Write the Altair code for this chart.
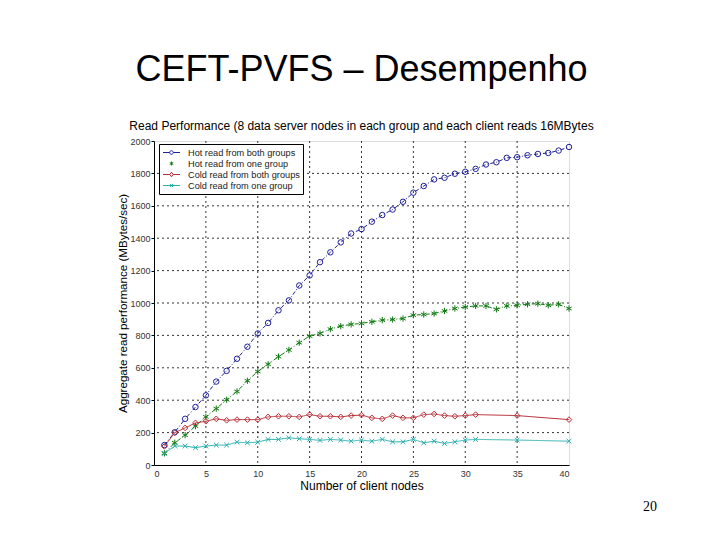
import altair as alt
import pandas as pd

# ---------------- data ----------------
series_names = [
    "Hot read from both groups",
    "Hot read from one group",
    "Cold read from both groups",
    "Cold read from one group",
]

x_full = list(range(1, 41))
hot_both = [123, 202, 285, 358, 430, 515, 581, 656, 730, 812,
            877, 955, 1016, 1108, 1170, 1252, 1313, 1374, 1429, 1456,
            1502, 1543, 1577, 1625, 1681, 1722, 1763, 1773, 1798, 1810,
            1828, 1855, 1869, 1896, 1900, 1912, 1920, 1926, 1941, 1963]
hot_one = [72, 137, 184, 240, 297, 348, 403, 454, 520, 577,
           622, 669, 710, 755, 796, 812, 839, 857, 868, 874,
           884, 894, 898, 904, 925, 929, 935, 951, 966, 975,
           982, 982, 961, 982, 986, 992, 996, 986, 992, 966]

x_cold = list(range(1, 32)) + [35, 40]
cold_both = [115, 199, 229, 260, 270, 285, 276, 280, 280, 280,
             297, 301, 301, 297, 311, 301, 301, 297, 305, 308,
             291, 285, 305, 291, 291, 311, 315, 305, 301, 305,
             311, 305, 280]
cold_one = [72, 117, 117, 107, 117, 123, 123, 141, 137, 141,
            158, 158, 168, 162, 158, 152, 158, 154, 147, 154,
            147, 158, 143, 143, 158, 137, 147, 133, 143, 154,
            158, 154, 147]

x_ticks = [0, 5, 10, 15, 20, 25, 30, 35, 40]
y_ticks = [0, 200, 400, 600, 800, 1000, 1200, 1400, 1600, 1800, 2000]
x_grid = [5, 10, 15, 20, 25, 30, 35]
y_grid = [200, 400, 600, 800, 1000, 1200, 1400, 1600, 1800]

colors = ["#1f1f99", "#127a12", "#b8303a", "#2aaeae"]
dashes = [[4, 2, 1, 2], [4, 2, 1, 2], [1, 0], [1, 0]]

# chart marker shapes (per series) and legend sample shapes (line + marker)
marker_shapes = [
    "circle",
    "M0,-1L0,1M-0.87,-0.5L0.87,0.5M-0.87,0.5L0.87,-0.5",
    "diamond",
    "M-1,-1L1,1M-1,1L1,-1",
]
marker_sizes = [30, 40, 32, 22]
legend_shapes = [
    "M-1.7,0L-0.36,0M0.36,0L1.7,0M0.36,0A0.36,0.36 0 1 1 -0.36,0A0.36,0.36 0 1 1 0.36,0",
    "M0,-0.4L0,0.4M-0.35,-0.2L0.35,0.2M-0.35,0.2L0.35,-0.2",
    "M-1.7,0L-0.33,0M0.33,0L1.7,0M-0.33,0L0,-0.46L0.33,0L0,0.46Z",
    "M-1.7,0L1.7,0M-0.3,-0.3L0.3,0.3M-0.3,0.3L0.3,-0.3",
]

rows = []
for xs, ys, name in [(x_full, hot_both, series_names[0]),
                     (x_full, hot_one, series_names[1]),
                     (x_cold, cold_both, series_names[2]),
                     (x_cold, cold_one, series_names[3])]:
    for a, b in zip(xs, ys):
        rows.append({"nodes": a, "perf": b, "series": name})
df = pd.DataFrame(rows)

grid_x_df = pd.DataFrame({"nodes": x_grid})
grid_y_df = pd.DataFrame({"perf": y_grid})

FONT = "Liberation Sans"

x_scale = alt.Scale(domain=[0, 40], nice=False)
y_scale = alt.Scale(domain=[0, 2000], nice=False)
color_scale = alt.Scale(domain=series_names, range=colors)

x_axis = alt.Axis(values=x_ticks, grid=False, ticks=False, domainColor="black",
                  labelFont=FONT, labelFontSize=9, labelColor="#333",
                  labelPadding=4, title="Number of client nodes",
                  titleFont=FONT, titleFontSize=12, titleFontWeight="normal",
                  titleColor="black", titlePadding=2)
y_axis = alt.Axis(values=y_ticks, format="d", grid=False, tickSize=3, tickColor="black",
                  domainColor="black", labelFont=FONT, labelFontSize=9,
                  labelColor="#333", labelPadding=1,
                  title="Aggregate read performance (MBytes/sec)",
                  titleFont=FONT, titleFontSize=11.6, titleFontWeight="normal",
                  titleColor="black", titlePadding=1)


def X():
    return alt.X("nodes:Q", scale=x_scale, axis=x_axis)


def Y():
    return alt.Y("perf:Q", scale=y_scale, axis=y_axis)


base = alt.Chart(df)

vgrid = alt.Chart(grid_x_df).mark_rule(color="black", strokeWidth=0.8, strokeDash=[2, 3]).encode(x=X())
hgrid = alt.Chart(grid_y_df).mark_rule(color="black", strokeWidth=0.8, strokeDash=[2, 3]).encode(y=Y())

line_layers = []
point_layers = []
for name, col, dsh, shp, sz in zip(series_names, colors, dashes, marker_shapes, marker_sizes):
    sub = base.transform_filter(alt.datum.series == name)
    line_layers.append(
        sub.mark_line(strokeWidth=1, color=col, strokeDash=dsh).encode(x=X(), y=Y())
    )
    point_layers.append(
        sub.mark_point(filled=False, shape=shp, size=sz, strokeWidth=1, color=col,
                       opacity=1).encode(x=X(), y=Y())
    )

legend_layer = base.transform_filter(alt.datum.nodes == 1).mark_point(
    filled=False, size=0, strokeWidth=1, opacity=1).encode(
    x=X(), y=Y(),
    color=alt.Color("series:N", scale=color_scale,
                    legend=alt.Legend(title=None, orient="none", legendX=5, legendY=3,
                                      fillColor="white", strokeColor="black", padding=3,
                                      labelFont=FONT, labelFontSize=9.2, labelColor="#222",
                                      symbolSize=100, symbolStrokeWidth=1, rowPadding=0,
                                      labelOffset=11, symbolOffset=4)),
    shape=alt.Shape("series:N", scale=alt.Scale(domain=series_names, range=legend_shapes)),
)

page_no = alt.Chart(pd.DataFrame({"t": ["20"]})).mark_text(
    font="Liberation Serif", fontSize=14, color="black").encode(
    text="t:N", x=alt.value(496), y=alt.value(366))

chart = alt.layer(vgrid, hgrid, *line_layers, *point_layers, legend_layer, page_no).properties(
    width=415, height=324,
    autosize=alt.AutoSizeParams(type="none"),
    padding={"left": 146, "top": 133, "right": 143, "bottom": 67},
    title=alt.TitleParams(
        text="CEFT-PVFS – Desempenho",
        subtitle="Read Performance (8 data server nodes in each group and each client reads 16MBytes",
        font=FONT, fontSize=36, fontWeight="normal", color="black",
        subtitleFont=FONT, subtitleFontSize=12, subtitleColor="black",
        subtitlePadding=32, offset=4, anchor="middle",
    ),
).configure_view(strokeWidth=0).configure(background="white")

chart.save("out.html", embed_options={"renderer": "svg", "actions": False})
